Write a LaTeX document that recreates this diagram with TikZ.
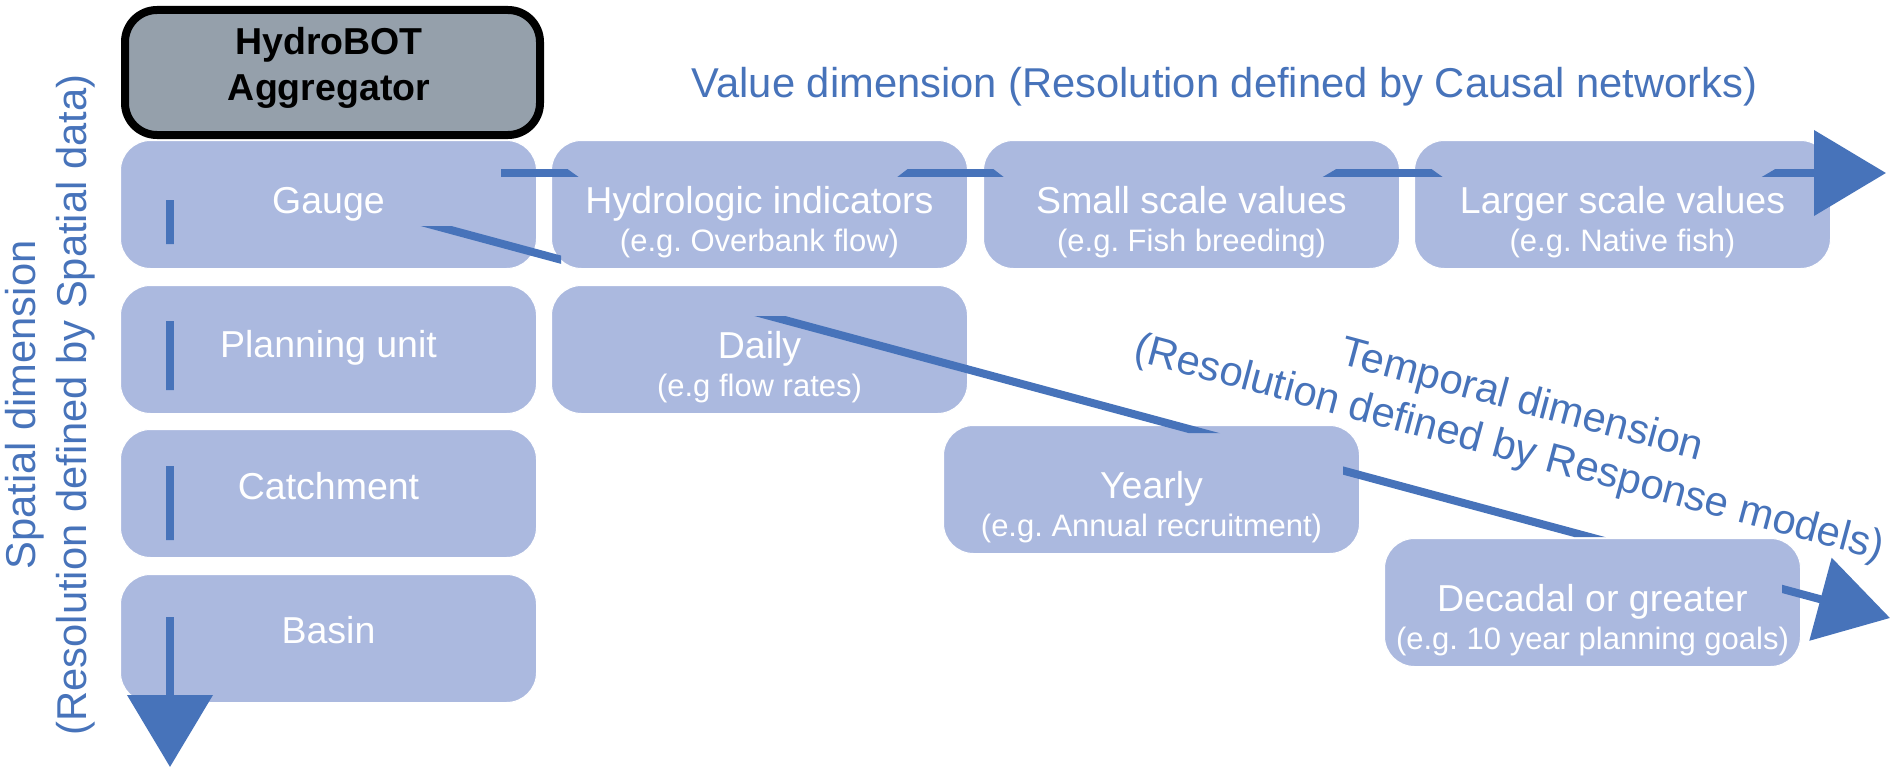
\documentclass[tikz,border=0pt]{standalone}
\usepackage{fontspec}
\setmainfont{Liberation Sans}
\usetikzlibrary{arrows.meta,calc}
\definecolor{boxfill}{RGB}{171,185,223}
\definecolor{aggfill}{RGB}{149,160,171}
\definecolor{axisblue}{RGB}{71,115,186}
\frenchspacing
\begin{document}
\frenchspacing
\begin{tikzpicture}[x=1pt,y=-1pt,
  box/.style={draw=white, line width=1pt, fill=boxfill, rounded corners=30pt,
    minimum width=416pt, minimum height=128pt, anchor=north west, inner sep=0pt},
  aggbox/.style={draw=black, line width=8pt, fill=aggfill, rounded corners=32pt,
    minimum width=415pt, minimum height=125pt, anchor=north west, inner sep=0pt},
  mainlbl/.style={text=white, font=\fontsize{37.5pt}{45pt}\selectfont\frenchspacing, anchor=base, inner sep=0pt},
  sublbl/.style={text=white, font=\fontsize{31pt}{37pt}\selectfont\frenchspacing, anchor=base, inner sep=0pt},
  agglbl/.style={text=black, font=\fontsize{37.5pt}{45pt}\selectfont\bfseries, anchor=base, inner sep=0pt},
  axislbl/.style={text=axisblue, font=\fontsize{41.7pt}{50pt}\selectfont, anchor=base, inner sep=0pt},
  axisline/.style={draw=axisblue, line width=8pt, -{Triangle[length=72pt,width=84pt]}}
]
\useasboundingbox (0,0) rectangle (1899,768);

% ---------- boxes ----------
\node[aggbox] (agg) at (121,6) {};
\node[box] (gauge) at (120,140) {};
\node[box] (planning) at (120,285) {};
\node[box] (catchment) at (120,429) {};
\node[box] (basin) at (120,574) {};
\node[box] (hydro) at (551,140) {};
\node[box] (daily) at (551,285) {};
\node[box] (small) at (983,140) {};
\node[box] (larger) at (1414,140) {};
\node[box] (yearly) at (943,425) {};
\node[box] (decadal) at (1384,538) {};

% ---------- axis arrows (visible pieces only) ----------
\coordinate (vtop) at (170,195);
\coordinate (vtip) at (170,767);
\coordinate (htop) at (495,173);
\coordinate (htip) at (1886,173);
\coordinate (dtop) at (400,216.3);
\coordinate (dtip) at (1890,618);

\begin{scope}
  \clip (150,200) rectangle (190,244)
        (150,321) rectangle (190,390)
        (150,466) rectangle (190,540)
        (100,617) rectangle (240,768);
  \draw[axisline] (vtop) -- (vtip);
\end{scope}

\begin{scope}
  \clip (501,168) -- (566,168) -- (580,178) -- (501,178) -- cycle
        (896,178) -- (909,168) -- (992,168) -- (1005,178) -- cycle
        (1321,178) -- (1338,168) -- (1430,168) -- (1444,178) -- cycle
        (1760,178) -- (1777,168) -- (1814,168) -- (1814,178) -- cycle
        (1814,120) rectangle (1899,230);
  \draw[axisline] (htop) -- (htip);
\end{scope}

\begin{scope}
  \clip (400,226) rectangle (561,280)
        (700,316) rectangle (1250,433)
        (1343,440) rectangle (1700,537)
        (1782,540) rectangle (1899,700);
  \draw[axisline] (dtop) -- (dtip);
\end{scope}

% ---------- box texts ----------
\node[agglbl] (t-agg1) at (329,55) {HydroBOT};
\node[agglbl] (t-agg2) at (329,100) {Aggregator};

\node[mainlbl] (t-gauge) at ($(gauge.north)+(0,73)$) {Gauge};
\node[mainlbl] (t-planning) at ($(planning.north)+(0,72)$) {Planning unit};
\node[mainlbl] (t-catchment) at ($(catchment.north)+(0,70)$) {Catchment};
\node[mainlbl] (t-basin) at ($(basin.north)+(0,69)$) {Basin};

\node[mainlbl] (t-hydro) at ($(hydro.north)+(0,73)$) {Hydrologic indicators};
\node[sublbl] (s-hydro) at ($(hydro.north)+(0,111)$) {(e.g. Overbank flow)};
\node[mainlbl] (t-small) at ($(small.north)+(0,73)$) {Small scale values};
\node[sublbl] (s-small) at ($(small.north)+(0,111)$) {(e.g. Fish breeding)};
\node[mainlbl] (t-larger) at ($(larger.north)+(0,73)$) {Larger scale values};
\node[sublbl] (s-larger) at ($(larger.north)+(0,111)$) {(e.g. Native fish)};

\node[mainlbl] (t-daily) at ($(daily.north)+(0,73)$) {Daily};
\node[sublbl] (s-daily) at ($(daily.north)+(0,111)$) {(e.g flow rates)};
\node[mainlbl] (t-yearly) at ($(yearly.north)+(0,73)$) {Yearly};
\node[sublbl] (s-yearly) at ($(yearly.north)+(0,111)$) {(e.g. Annual recruitment)};
\node[mainlbl] (t-decadal) at ($(decadal.north)+(0,73)$) {Decadal or greater};
\node[sublbl] (s-decadal) at ($(decadal.north)+(0,111)$) {(e.g. 10 year planning goals)};

% ---------- axis labels ----------
\node[axislbl] (valuelbl) at (1224.5,98) {Value dimension (Resolution defined by Causal networks)};
\node[axislbl, rotate=90] (spatial1) at (35,405) {Spatial dimension};
\node[axislbl, rotate=90] (spatial2) at (86,405) {(Resolution defined by Spatial data)};
\node[axislbl, rotate=-15] (temporal1) at (1519,412) {Temporal dimension};
\node[axislbl, rotate=-15] (temporal2) at (1506,460) {(Resolution defined by Response models)};
\end{tikzpicture}
\end{document}
